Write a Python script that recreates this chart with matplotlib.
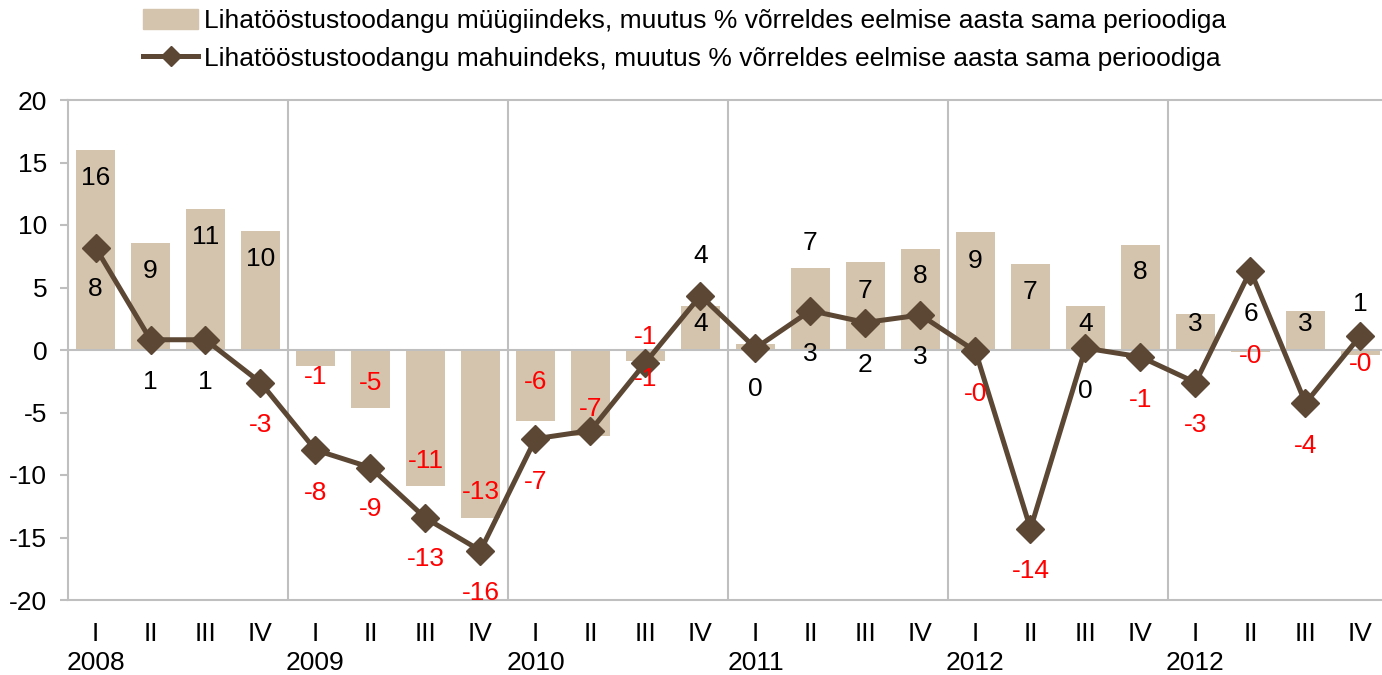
import numpy as np
import matplotlib
matplotlib.use("Agg")
from matplotlib import pyplot as plt
from matplotlib.patches import Patch
from matplotlib.lines import Line2D

quarters = ["I", "II", "III", "IV"] * 6
years = ["2008", "2009", "2010", "2011", "2012", "2012"]

sales = [16.0, 8.55, 11.3, 9.5,
         -1.25, -4.6, -10.9, -13.45,
         -5.7, -6.85, -0.85, 3.5,
         0.5, 6.55, 7.04, 8.05,
         9.46, 6.9, 3.55, 8.4,
         2.85, -0.15, 3.1, -0.4]

volume = [8.2, 0.82, 0.82, -2.6,
          -8.0, -9.4, -13.45, -16.05,
          -7.1, -6.45, -1.0, 4.35,
          0.15, 3.15, 2.2, 2.8,
          -0.1, -14.3, 0.15, -0.55,
          -2.6, 6.35, -4.25, 1.15]

# label offsets in pixels (positive = up), None = label hidden
sales_off = [-28, -28, -28, -28, -11, 25, 25, 26, 39, 27, 24, -18,
             None, 25, -29, -27, -29, -28, -18, -27, -10, -4, -13, -9]
volume_off = [-42, -42, -42, -43, -43, -42, -41, -42, -43, None, -16, 40,
              -41, -43, -42, -42, -43, -42, -43, -43, -42, -43, -43, 32]

label_sales = "Lihatööstustoodangu müügiindeks, muutus % võrreldes eelmise aasta sama perioodiga"
label_volume = "Lihatööstustoodangu mahuindeks, muutus % võrreldes eelmise aasta sama perioodiga"

bar_color = "#D5C4AD"
line_color = "#5B4734"
grid_color = "#BFBFBF"
FS = 19

plt.rcParams['font.family'] = ['Liberation Sans', 'DejaVu Sans']
plt.rcParams['axes.unicode_minus'] = False

W, H = 1382, 675
fig = plt.figure(figsize=(W / 100, H / 100), dpi=100)
ax = fig.add_axes([68 / W, 1 - 600 / H, 1320 / W, 500 / H])

x = np.arange(len(sales))
ax.bar(x, sales, width=0.71, color=bar_color, zorder=2)
ax.plot(x, volume, color=line_color, lw=3.6, marker="D", ms=14,
        markeredgecolor=line_color, zorder=4)
ax.axhline(0, color=grid_color, lw=1.5, zorder=3)

for xb in np.arange(3.5, len(sales) - 1, 4):
    ax.axvline(xb, color=grid_color, lw=1.5, zorder=1)

ax.set_xlim(-0.5, len(sales) - 0.5)
ax.set_ylim(-20, 20)
ax.set_yticks(np.arange(-20, 21, 5))
ax.set_xticks(x)
ax.set_xticklabels(quarters)
ax.tick_params(axis="x", length=0, pad=16, labelsize=FS)
ax.tick_params(axis="y", length=6, width=1.5, color=grid_color, pad=9, labelsize=FS)

for s in ["left", "top", "bottom"]:
    ax.spines[s].set_color(grid_color)
    ax.spines[s].set_linewidth(1.5)
ax.spines["right"].set_visible(False)

for i, yr in enumerate(years):
    ax.text(i * 4, -0.125, yr, transform=ax.get_xaxis_transform(),
            ha="center", va="center", fontsize=FS)

def put_labels(vals, offs):
    for i, (v, o) in enumerate(zip(vals, offs)):
        if o is None:
            continue
        t = format(v, ".0f")
        ax.annotate(t, (i, v), xytext=(0, o), textcoords="offset pixels",
                    ha="center", va="center", fontsize=FS,
                    color="red" if t.startswith("-") else "black", zorder=5)

put_labels(sales, sales_off)
put_labels(volume, volume_off)

handles = [Patch(color=bar_color),
           Line2D([], [], color=line_color, lw=3.6, marker="D", ms=10)]
fig.legend(handles, [label_sales, label_volume], loc="upper left",
           bbox_to_anchor=(143 / W, 1 - 9 / H), frameon=False, fontsize=FS,
           borderpad=0, borderaxespad=0, handlelength=2.1, handletextpad=0.2,
           labelspacing=0.5, handleheight=0.8)

fig.savefig("out.png", dpi=100)
